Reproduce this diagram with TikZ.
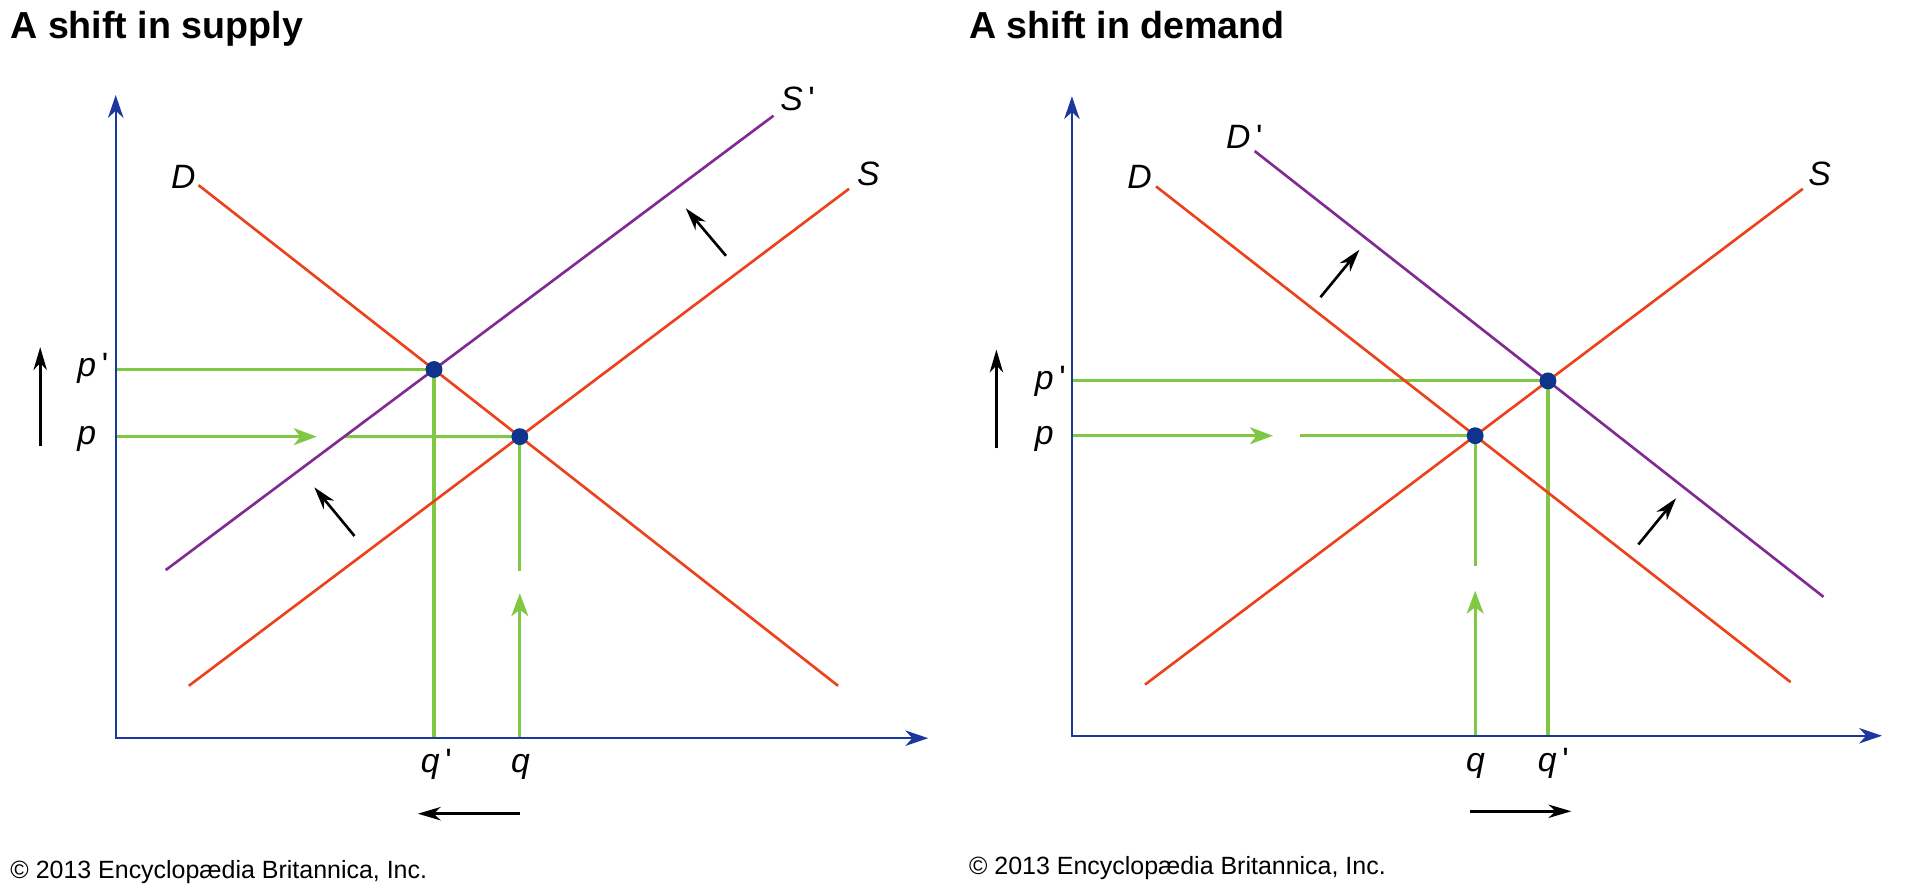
\documentclass[tikz,border=0pt]{standalone}
\usepackage{fontspec}
\setmainfont{Liberation Sans}
\usetikzlibrary{arrows.meta,positioning,calc}

\definecolor{axisblue}{RGB}{28,55,158}
\definecolor{curvered}{RGB}{236,66,28}
\definecolor{shiftpurple}{RGB}{128,42,146}
\definecolor{guidegreen}{RGB}{128,200,68}
\definecolor{dotblue}{RGB}{14,52,140}

\tikzset{
  axis/.style={axisblue,line width=0.6pt,{Stealth[length=6.5pt,width=4.4pt,inset=2pt]}-{Stealth[length=6.5pt,width=4.4pt,inset=2pt]}},
  curve/.style={line width=0.75pt},
  guide/.style={guidegreen,line width=0.9pt},
  guidetip/.style={guide,-{Stealth[length=6.5pt,width=4.8pt,inset=1.8pt]}},
  move/.style={black,line width=0.75pt,-{Stealth[length=6.5pt,width=3.8pt,inset=2pt]}},
  eqdot/.style={circle,fill=dotblue,inner sep=0pt,minimum size=4.8pt},
  lab/.style={font=\fontsize{9.6}{11}\selectfont\itshape,inner sep=0pt,anchor=base west},
  heading/.style={font=\fontsize{10.7}{12}\selectfont\bfseries,inner sep=0pt,anchor=base west},
  credit/.style={font=\fontsize{7.1}{8}\selectfont,inner sep=0pt,anchor=base west}
}
\newcommand{\prm}{\,{\upshape\textquotesingle}}

\begin{document}
\begin{tikzpicture}[x=0.012181cm,y=-0.012181cm,>=Stealth]
\useasboundingbox (0,0) rectangle (1568,731);
% left panel: supply moves up
\node[heading] (lTitle) at (8,32) {A shift in supply};
\coordinate (lO) at (95,606);
\coordinate (lY) at (95,78);
\coordinate (lX) at (762,606);
\coordinate (lD0) at (163,152); \coordinate (lD1) at (688,563);
\coordinate (lS0) at (155,563); \coordinate (lS1) at (697,155);
\coordinate (lSn0) at (136,468); \coordinate (lSn1) at (635,95);
\coordinate (lE) at (intersection of lD0--lD1 and lS0--lS1);
\coordinate (lEn) at (intersection of lD0--lD1 and lSn0--lSn1);
\coordinate (lp) at (lO |- lE); \coordinate (lpn) at (lO |- lEn);
\coordinate (lq) at (lE |- lO); \coordinate (lqn) at (lEn |- lO);
\coordinate (lpRe) at (intersection of lSn0--lSn1 and lp--lE);
\draw[guidetip] (lp) -- ++(165,0) coordinate (lpTip);
\draw[guide] (lpRe) -- (lE);
\draw[guide] (lpn) -- (lEn) -- (lqn);
\draw[guide] (lE) -- ++(0,110) coordinate (lqEnd);
\draw[guidetip] (lq) -- ++(0,-119) coordinate (lqTip);
\draw[axis] (lY) -- (lO) -- (lX);
\draw[curve,curvered] (lD0) -- (lD1);
\draw[curve,curvered] (lS0) -- (lS1);
\draw[curve,shiftpurple] (lSn0) -- (lSn1);
\node[eqdot] (lEdot) at (lE) {};
\node[eqdot] (lEndot) at (lEn) {};
\node[lab] (lDlab) at (140,155) {D};
\node[lab] (lSlab) at (703,152) {S};
\node[lab] (lSnlab) at (640,91) {S\prm};
\node[lab] (lplab) at (63,365) {p};
\node[lab] (lpnlab) at (63,309) {p\prm};
\node[lab] (lqnlab) at (345,634) {q\prm};
\node[lab] (lqlab) at (419,634) {q};
\coordinate (lA0) at (33,366); \coordinate (lA1) at (33,285);
\coordinate (lB0) at (427,668); \coordinate (lB1) at (343,668);
\coordinate (lC0) at (596,210); \coordinate (lC1) at (563,171);
\coordinate (lF0) at (291,440); \coordinate (lF1) at (258,400);
\foreach \a/\b in {lA0/lA1,lB0/lB1,lC0/lC1,lF0/lF1} {\draw[move] (\a) -- (\b);}
\node[credit] (lCredit) at (8,721) {© 2013 Encyclopædia Britannica, Inc.};

% right panel: demand moves up
\node[heading] (rTitle) at (795,32) {A shift in demand};
\coordinate (rO) at (880,604);
\coordinate (rY) at (880,79);
\coordinate (rX) at (1545,604);
\coordinate (rD0) at (949,153); \coordinate (rD1) at (1470,560);
\coordinate (rDn0) at (1030,124); \coordinate (rDn1) at (1497,490);
\coordinate (rS0) at (940,562); \coordinate (rS1) at (1480,155);
\coordinate (rE) at (intersection of rD0--rD1 and rS0--rS1);
\coordinate (rEn) at (intersection of rDn0--rDn1 and rS0--rS1);
\coordinate (rp) at (rO |- rE); \coordinate (rpn) at (rO |- rEn);
\coordinate (rq) at (rE |- rO); \coordinate (rqn) at (rEn |- rO);
\draw[guidetip] (rp) -- ++(165,0) coordinate (rpTip);
\path (rp) ++(187,0) coordinate (rpRe);
\draw[guide] (rpRe) -- (rE);
\draw[guide] (rpn) -- (rEn) -- (rqn);
\draw[guide] (rE) -- ++(0,107) coordinate (rqEnd);
\draw[guidetip] (rq) -- ++(0,-119) coordinate (rqTip);
\draw[axis] (rY) -- (rO) -- (rX);
\draw[curve,curvered] (rD0) -- (rD1);
\draw[curve,shiftpurple] (rDn0) -- (rDn1);
\draw[curve,curvered] (rS0) -- (rS1);
\node[eqdot] (rEdot) at (rE) {};
\node[eqdot] (rEndot) at (rEn) {};
\node[lab] (rDlab) at (925,155) {D};
\node[lab] (rDnlab) at (1006,122) {D\prm};
\node[lab] (rSlab) at (1484,152) {S};
\node[lab] (rplab) at (849,365) {p};
\node[lab] (rpnlab) at (849,320) {p\prm};
\node[lab] (rqlab) at (1203,633) {q};
\node[lab] (rqnlab) at (1262,633) {q\prm};
\coordinate (rA0) at (818,368); \coordinate (rA1) at (818,287);
\coordinate (rB0) at (1207,666); \coordinate (rB1) at (1290,666);
\coordinate (rC0) at (1084,244); \coordinate (rC1) at (1116,205);
\coordinate (rF0) at (1345,447); \coordinate (rF1) at (1376,409);
\foreach \a/\b in {rA0/rA1,rB0/rB1,rC0/rC1,rF0/rF1} {\draw[move] (\a) -- (\b);}
\node[credit] (rCredit) at (795,718) {© 2013 Encyclopædia Britannica, Inc.};
\end{tikzpicture}
\end{document}
